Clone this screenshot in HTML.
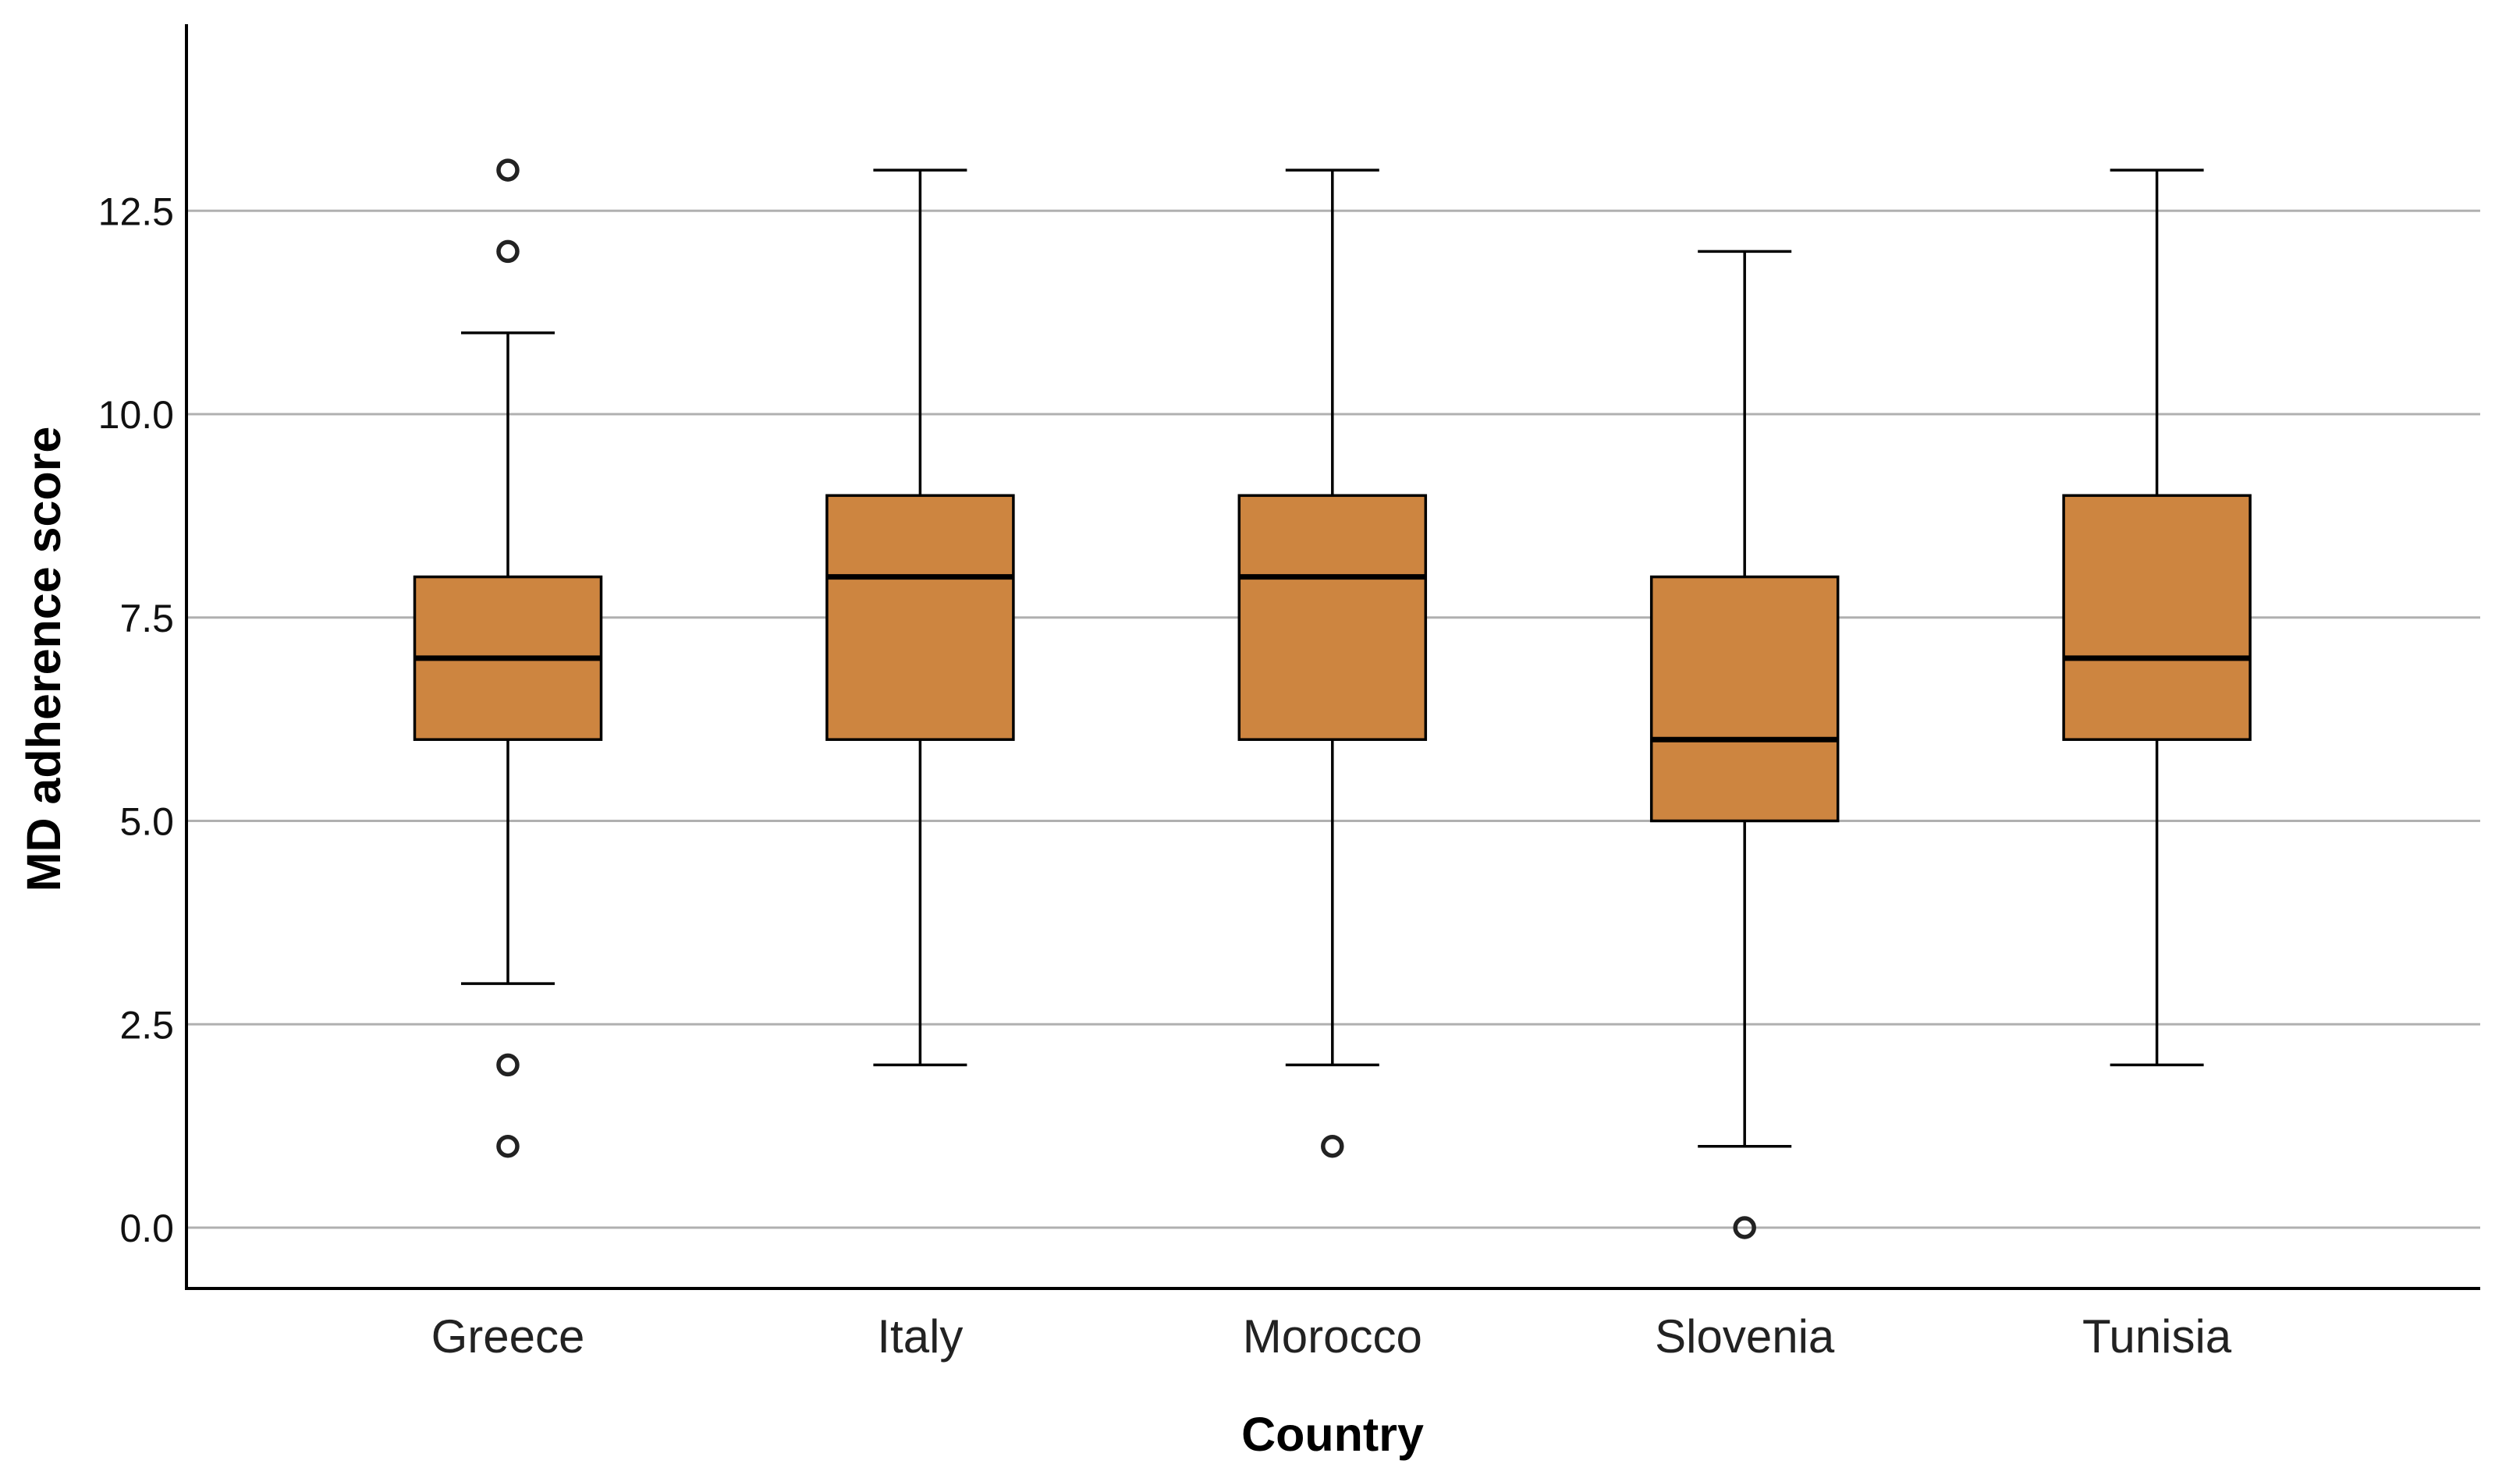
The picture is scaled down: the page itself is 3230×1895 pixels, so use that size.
<!DOCTYPE html>
<html><head><meta charset="utf-8"><style>
html,body{margin:0;padding:0;background:#fff}
svg{display:block}
text{font-family:"Liberation Sans",Arial,sans-serif}
</style></head><body>
<svg id="chart" width="3230" height="1895" viewBox="0 0 3230 1895" xmlns="http://www.w3.org/2000/svg">
<g id="grid"></g>
<g id="boxes"></g>
<g id="axes"></g>
<text x="1708" y="1860" font-size="61" font-weight="bold" text-anchor="middle">Country</text>
<text transform="translate(56,845) rotate(-90)" font-size="61" font-weight="bold" text-anchor="middle" dominant-baseline="central">MD adherence score</text>
</svg>
<script>
const categories = ["Greece","Italy","Morocco","Slovenia","Tunisia"];
const whiskerLow = [3,2,2,1,2];
const q1 = [6,6,6,5,6];
const medians = [7,8,8,6,7];
const q3 = [8,9,9,8,9];
const whiskerHigh = [11,13,13,12,13];
const outliers = [[13,12,2,1],[],[1],[0],[]];
const yTicks = [0,2.5,5,7.5,10,12.5];
const yTickLabels = ["0.0","2.5","5.0","7.5","10.0","12.5"];

const NS="http://www.w3.org/2000/svg";
const L=239,R=3179,T=31,B=1652;
const y0=1574, perUnit=104.3;
function yScale(v){return y0 - v*perUnit;}
const x0=651, step=528.4;
function xScale(i){return x0 + i*step;}
const boxW=239, capW=120;
function mk(tag,attrs,parent){const e=document.createElementNS(NS,tag);for(const k in attrs)e.setAttribute(k,attrs[k]);parent.appendChild(e);return e;}
const grid=document.getElementById('grid'),boxes=document.getElementById('boxes'),axes=document.getElementById('axes');
yTicks.forEach((t,i)=>{
  const y=yScale(t);
  const g=mk('line',{x1:L,x2:R,y1:y,y2:y,stroke:'#b0b0b0','stroke-width':3},grid);
  
  
  const tx=mk('text',{x:L-16,y:y+18,'font-size':50,'text-anchor':'end',fill:'#111'},axes);
  tx.textContent=yTickLabels[i];
  
  
});
categories.forEach((c,i)=>{
  const x=xScale(i);
  const g=mk('g',{},boxes);
  
  
  mk('line',{x1:x,x2:x,y1:yScale(whiskerLow[i]),y2:yScale(q1[i]),stroke:'#000','stroke-width':3.5},g);
  mk('line',{x1:x,x2:x,y1:yScale(q3[i]),y2:yScale(whiskerHigh[i]),stroke:'#000','stroke-width':3.5},g);
  mk('line',{x1:x-capW/2,x2:x+capW/2,y1:yScale(whiskerLow[i]),y2:yScale(whiskerLow[i]),stroke:'#000','stroke-width':3.5},g);
  mk('line',{x1:x-capW/2,x2:x+capW/2,y1:yScale(whiskerHigh[i]),y2:yScale(whiskerHigh[i]),stroke:'#000','stroke-width':3.5},g);
  mk('rect',{x:x-boxW/2,y:yScale(q3[i]),width:boxW,height:yScale(q1[i])-yScale(q3[i]),fill:'#cd8540',stroke:'#000','stroke-width':3.5},g);
  mk('line',{x1:x-boxW/2,x2:x+boxW/2,y1:yScale(medians[i]),y2:yScale(medians[i]),stroke:'#000','stroke-width':7},g);
  outliers[i].forEach(v=>{
    const o=mk('circle',{cx:x,cy:yScale(v),r:12,fill:'none',stroke:'#222','stroke-width':5.5},g);
    
    
  });
  const tx=mk('text',{x:x,y:B+82,'font-size':60,'text-anchor':'middle',fill:'#222'},axes);
  tx.textContent=c;
  
  
});
const ya=mk('line',{x1:L,x2:L,y1:T,y2:B+2,stroke:'#000','stroke-width':4},axes);


const xa=mk('line',{x1:L-2,x2:R,y1:B,y2:B,stroke:'#000','stroke-width':4},axes);


</script>
</body></html>
